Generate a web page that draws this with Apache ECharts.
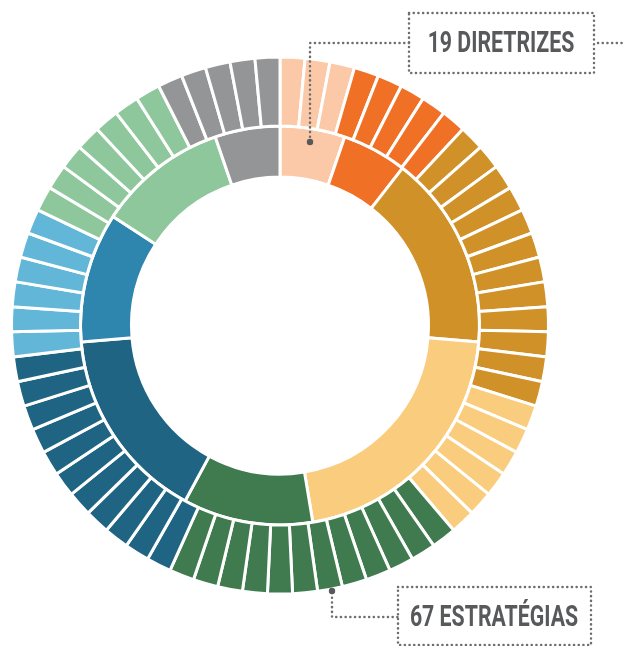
<!DOCTYPE html>
<html>
<head>
<meta charset="utf-8">
<script src="https://cdn.jsdelivr.net/npm/echarts@6/dist/echarts.min.js"></script>
<style>
  html, body { margin: 0; padding: 0; background: #ffffff; }
  #chart { width: 623px; height: 646px; }
</style>
</head>
<body>
<div id="chart"></div>
<script>
// Themes (groups), clockwise from 12 o'clock
const themes = ['Tema 1', 'Tema 2', 'Tema 3', 'Tema 4', 'Tema 5', 'Tema 6', 'Tema 7', 'Tema 8', 'Tema 9'];
// Inner ring: diretrizes per theme (total 19)
const diretrizesPorTema = [1, 1, 3, 4, 2, 3, 2, 2, 1];
// Outer ring: estratégias per theme (total 67)
const estrategiasPorTema = [3, 5, 12, 6, 12, 11, 6, 7, 5];
const innerColors = ['#FBC9A8', '#F07026', '#D09128', '#FACD7E', '#3F7B4E', '#1F6583', '#2E85AD', '#8EC79B', '#949597'];
const outerColors = ['#FBC9A8', '#F07026', '#D09128', '#FACD7E', '#3F7B4E', '#1F6583', '#62B6D8', '#8EC79B', '#949597'];
const labelDiretrizes = '19 DIRETRIZES';
const labelEstrategias = '67 ESTRATÉGIAS';

const innerData = themes.map((t, i) => ({
  name: t, value: diretrizesPorTema[i], itemStyle: { color: innerColors[i] }
}));
const outerData = [];
themes.forEach((t, i) => {
  for (let k = 0; k < estrategiasPorTema[i]; k++) {
    outerData.push({ name: t + ' - E' + (k + 1), value: 1, itemStyle: { color: outerColors[i] } });
  }
});

const dot = { stroke: '#6d6e71', lineWidth: 2.5, lineDash: [0.1, 4.6], lineCap: 'round', fill: null };
const textStyle = (txt) => ({
  text: txt, fill: '#58595b', font: 'bold 30px Roboto', align: 'center', verticalAlign: 'middle'
});

const chart = echarts.init(document.getElementById('chart'), null, { renderer: 'canvas' });
chart.setOption({
  animation: false,
  backgroundColor: '#ffffff',
  series: [
    {
      type: 'pie', silent: true, startAngle: 90, clockwise: true, z: 1,
      center: [280, 325.5], radius: [148.5, 199.5],
      label: { show: false }, labelLine: { show: false },
      itemStyle: { borderColor: '#ffffff', borderWidth: 3 },
      emphasis: { disabled: true },
      data: innerData
    },
    {
      type: 'pie', silent: true, startAngle: 90, clockwise: true, z: 1,
      center: [280, 325.5], radius: [199.5, 268.5],
      label: { show: false }, labelLine: { show: false },
      itemStyle: { borderColor: '#ffffff', borderWidth: 3 },
      emphasis: { disabled: true },
      data: outerData
    }
  ],
  graphic: {
    elements: [
      { type: 'rect', z: 100, shape: { x: 409, y: 13, width: 185, height: 60 }, style: dot, silent: true },
      { type: 'polyline', z: 100, shape: { points: [[409, 43], [310, 43], [310, 140]] }, style: dot, silent: true },
      { type: 'polyline', z: 100, shape: { points: [[598, 43], [625, 43]] }, style: dot, silent: true },
      { type: 'circle', z: 101, shape: { cx: 310, cy: 142, r: 3.2 }, style: { fill: '#58595b' }, silent: true },
      { type: 'text', z: 100, x: 501, y: 44, scaleX: 0.71, style: textStyle(labelDiretrizes), silent: true },

      { type: 'rect', z: 100, shape: { x: 398, y: 587, width: 193, height: 58 }, style: dot, silent: true },
      { type: 'polyline', z: 100, shape: { points: [[332, 593], [332, 617], [398, 617]] }, style: dot, silent: true },
      { type: 'circle', z: 101, shape: { cx: 332, cy: 591, r: 3.2 }, style: { fill: '#58595b' }, silent: true },
      { type: 'text', z: 100, x: 494, y: 618, scaleX: 0.71, style: textStyle(labelEstrategias), silent: true }
    ]
  }
});
</script>
</body>
</html>
